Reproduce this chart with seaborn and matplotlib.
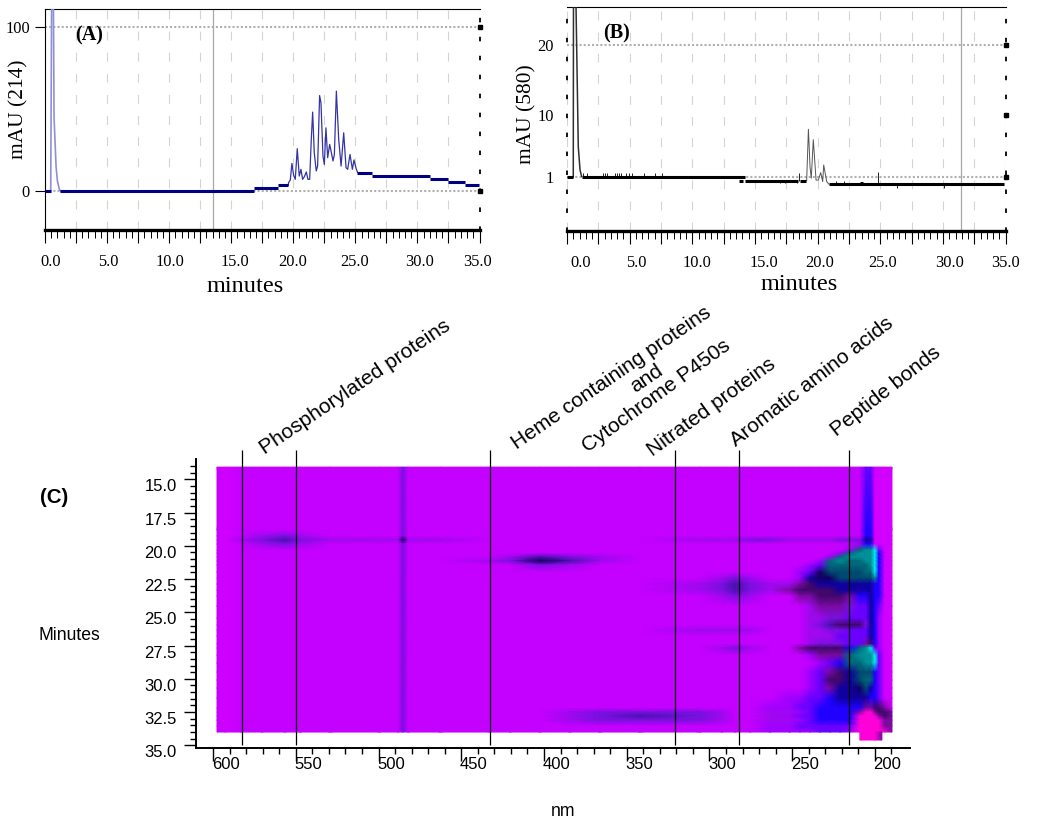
"""Chromatograms at 214 and 580 nm above a wavelength / time absorbance map."""
import numpy as np
import seaborn as sns
import matplotlib
matplotlib.use("Agg")
import matplotlib.pyplot as plt
from matplotlib.colors import ListedColormap
from matplotlib.transforms import ScaledTranslation

W, H = 1050, 826

# panel A, 214 nm trace
a_peak_t = [0.46, 0.54, 0.67, 0.73, 0.89, 1.0, 1.16, 1.25]
a_peak_v = [0, 125, 125, 45, 15, 6, 1, 0]
a_t = [19.6, 19.62, 19.76, 19.89, 20.03, 20.16, 20.32, 20.48, 20.62, 20.75, 20.89, 21.05, 21.18, 21.32,
       21.45, 21.56, 21.69, 21.85, 21.96, 22.12, 22.23, 22.39, 22.50, 22.63, 22.77, 22.93, 23.07, 23.20,
       23.31, 23.47, 23.66, 23.85, 24.06, 24.25, 24.38, 24.57, 24.76, 24.89, 25.08, 25.19]
a_v = [3.4, 5.1, 6.7, 16.8, 9.5, 7.1, 25.8, 9.1, 13.2, 7.1, 8.7, 11.6, 7.1, 7.1,
       31.4, 48.1, 23.3, 12.2, 15.2, 58.2, 53.8, 21.3, 16.2, 38.5, 20.3, 28.4, 23.3, 18.3,
       22.3, 60.9, 31.4, 15.2, 35.5, 14.2, 13.2, 22.3, 13.2, 18.9, 13.2, 11.2]
a_flat_from = [0, 1.2, 16.8, 18.76, 25.1, 26.35, 31.0, 32.5, 33.8]
a_flat_to = [0.46, 16.8, 18.76, 19.6, 26.35, 31.0, 32.5, 33.8, 34.95]
a_flat_v = [0, 0, 1.6, 3.4, 11, 9, 7.3, 5.5, 3.7]

# panel B, 580 nm trace
b_peak_t = [0.5, 0.52, 0.68, 0.9, 1.04, 1.17]
b_peak_v = [1, 30, 30, 5.4, 2.05, 1.1]
b_t = [19.12, 19.26, 19.39, 19.49, 19.65, 19.87, 20.05, 20.24, 20.4, 20.48, 20.72, 20.9]
b_v = [0.47, 7.9, 2.5, 0.86, 6.4, 0.6, 0.6, 1.67, 0.38, 2.77, 0.38, 0]
b_flat_from = [0, 1.17, 13.75, 14.2, 18.6, 20.9, 23.38]
b_flat_to = [0.5, 14.2, 14.07, 18.46, 19.1, 34.85, 23.6]
b_flat_v = [1, 1, 0.47, 0.47, 0.47, 0, 0.25]
b_spike_t = [1.3, 1.57, 2.85, 3.03, 3.22, 3.86, 4.02, 4.18, 4.34, 4.71, 4.97, 5.16, 6.14, 7.02, 7.55,
             18.54, 24.81, 16.99, 17.39, 18.32, 26.36, 30.1, 21.5, 22.1]
b_spike_base = [1] * 15 + [0.47, 0, 0.47, 0.47, 0.47, 0, 0, 0, 0]
b_spike_tip = [1.67] * 15 + [1.67, 1.72, 0.2, 0.2, 0.2, -0.6, -0.6, 0.4, 0.4]

run_major = [i * 2.5 for i in range(15)]
run_labels = ["0.0", "", "5.0", "", "10.0", "", "15.0", "", "20.0", "", "25.0", "", "30.0", "", "35.0"]

# panel C, absorbance map: rows are minutes, columns nm, one character per grid point
map_nm = [597.6, 592.7, 583.1, 570.4, 556.5, 547.4, 529.3, 499.1, 488.2, 485.2, 482.2,
          462.8, 432.6, 420.5, 402.4, 384.3, 366.2, 342.0,
          305.7, 292.4, 284.6, 275.5, 263.4, 251.4, 245.3,
          239.3, 233.2, 227.2, 221.1, 215.1, 209.1, 205.4, 202.4, 200.0, 197.6, 194.0, 189.7]
map_min = [14.08, 18.81, 19.26, 19.56, 19.86, 20.32, 20.54, 20.84, 21.14, 21.44, 21.97, 22.42, 22.87, 23.32,
           23.77, 24.53, 25.43, 25.95, 26.33, 26.78, 27.38, 27.68, 28.21, 28.81, 29.49, 30.09, 30.69, 31.44,
           32.2, 32.5, 32.8, 33.1, 33.55, 34.0]
map_rows = [
    "1a1111111e1 1111111 1111111 11111133aaaa",
    "1a1111111e1 1111111 1111111 11111144aaaa",
    "1a1fef111e1 1111111 1111111 11111144aaaa",
    "1afedefff6f f111111 fffeeff fffeee55aaaa",
    "1a1fef111e1 1111111 1111111 11111244aaaa",
    "1a1111111e1 1111111 1111111 1111278893aa",
    "1a1111111e1 1111111 1111111 1112788894aa",
    "1a1111111e1 11fdef1 1111111 1127888894aa",
    "1a1111111e1 1fe6df1 1111111 1278778894aa",
    "1a1111111e1 111ef11 1111111 2377777894aa",
    "1a1111111e1 1111111 1111112 36nnnn7794aa",
    "1a1111111e1 1111111 1fef112 566nnnnn84aa",
    "1a1111111e1 1111111 fedeffp m555555544aa",
    "1a1111111e1 1111111 fedefpm mmm5555544aa",
    "1a1111111e1 1111111 1fef11p pmmmp44544aa",
    "1a1111111e1 1111111 1111111 fpppe33543aa",
    "1a1111111e1 1111111 1111111 ffee333542aa",
    "1a1111111e1 1111111 1111111 fedmmme542aa",
    "1a1111111e1 1111111 ffff111 ffee333542aa",
    "1a1111111e1 1111111 1111111 fff3333542aa",
    "1a1111111e1 1111111 1111111 feee33pm42aa",
    "1a1111111e1 1111111 1fef11p mmmm478932aa",
    "1a1111111e1 1111111 1111111 2ppp788893aa",
    "1a1111111e1 1111111 1111111 1234778893aa",
    "1a1111111e1 1111111 1111111 23pm5nnn43aa",
    "1a1111111e1 1111111 1111111 23mm5n7743aa",
    "1a1111111e1 1111111 1111111 23p556n543aa",
    "1a1111111e1 1111111 1111122 3345555443aa",
    "1a1111111e1 1111111 1111223 344444ppmmpa",
    "1a1111111e1 1111fee ef11ff2 34444p00pmmp",
    "1a1111111e1 1111fed ef11f23 344440000pmp",
    "1a1111111e1 1111fee ef11ff2 3444400000pp",
    "1a1111111e1 1111111 1111223 3333300000pp",
    "1a1111111e1 1111111 1111222 23332000000p",
]
tail_nm = [209.1, 200.0, 195.8]
tail_min = [34.0, 34.6]
tail_rows = ["00p", "00p"]
map_levels = "0a123456789pmdefn"
map_colors = ["#ff00d8", "#d200ff", "#c400ff", "#a000ff", "#6a00ff", "#2000ff", "#1000a0", "#100060",
              "#006878", "#009098", "#00f0f0", "#7a0aa0", "#40086a", "#4a10b0", "#7a10e0", "#a008f0", "#004a70"]
marker_nm = [582.7, 549.6, 432.6, 321.1, 282.2, 215.4]
map_min_ticks = [15.0, 17.5, 20.0, 22.5, 25.0, 27.5, 30.0, 32.5, 35.0]
map_nm_ticks = [600, 550, 500, 450, 400, 350, 300, 250, 200]

# label text, left end of the baseline in pixels, angle
notes = [
    ("Phosphorylated proteins", 265, 455, 34),
    ("Heme containing proteins", 517, 450, 34.5),
    ("and", 635, 393, 34),
    ("Cytochrome P450s", 588, 453, 36),
    ("Nitrated proteins", 653, 457, 36),
    ("Aromatic amino acids", 736, 447, 37.5),
    ("Peptide bonds", 837, 437, 38),
]

SERIF = "Liberation Serif"
sns.set_style("white")
plt.rcParams["font.family"] = ["Liberation Sans", "DejaVu Sans"]
plt.rcParams["text.color"] = "black"
plt.rcParams["axes.labelcolor"] = "black"
plt.rcParams["xtick.color"] = "black"
plt.rcParams["ytick.color"] = "black"

fig = plt.figure(figsize=(W / 100, H / 100), dpi=100)


def box(left, top, right, bottom):
    return fig.add_axes([left / W, 1 - bottom / H, (right - left) / W, (bottom - top) / H])


def shift(label, dx, dy):
    label.set_transform(label.get_transform() + ScaledTranslation(dx / 100, dy / 100, fig.dpi_scale_trans))


def run_panel(ax, ylim, yticks, ylabels, xshift, yshift, dotted, cursor, tag_x, tag_y):
    ax.set_xlim(0, 35)
    ax.set_ylim(*ylim)
    for x in run_major:
        ax.axvline(x, color="#d4d4d4", lw=0.8, dashes=(8, 11), zorder=1)
    for y in dotted:
        ax.axhline(y, color="#b0b0b0", lw=1.5, dashes=(1, 1), zorder=1)
    ax.axvline(cursor, color="#a8a8a8", lw=0.9, zorder=1)

    ax.set_xticks(run_major)
    ax.set_xticklabels(run_labels, family=SERIF, fontsize=11.8)
    ax.set_xticks(np.arange(0, 35.1, 0.5), minor=True)
    ax.tick_params(axis="x", which="major", bottom=True, length=9.4, width=0.8, pad=8)
    ax.tick_params(axis="x", which="minor", bottom=True, length=5.8, width=0.7)
    ax.set_yticks(yticks)
    ax.set_yticklabels(ylabels, family=SERIF, fontsize=11.8)
    for lab, dx in zip(ax.get_xticklabels()[::2], xshift):
        shift(lab, dx, 0)
    for lab, dy in zip(ax.get_yticklabels(), yshift):
        shift(lab, 0, dy)

    for side in ax.spines:
        ax.spines[side].set_color("black")
        ax.spines[side].set_linewidth(0.8)
    ax.spines["bottom"].set_linewidth(2.4)
    ax.spines["right"].set_linestyle((0, (1.5, 9)))
    ax.spines["right"].set_linewidth(1.3)
    fig.text(tag_x / W, 1 - tag_y / H, ax.get_label(), family=SERIF, fontsize=14.5, fontweight="bold",
             ha="center", va="center")
    ax.plot([35] * len(yticks), yticks, "s", color="black", ms=2.2, clip_on=False, zorder=5)


# panel A
ax_a = box(45, 9, 479.5, 230)
ax_a.set_label("(A)")
run_panel(ax_a, (-23.8, 111), [100, 0], ["100", "0"], [6, 1, 1, 4, -1, -1, 2, -2], [4, 2], [100, 0], 13.5, 89, 35)
ax_a.tick_params(axis="y", length=7.2, width=0.8, left=True, pad=3.6)
sns.lineplot(x=a_peak_t, y=a_peak_v, estimator=None, sort=False, color="#8f8fd8", lw=1.2, ax=ax_a, zorder=3)
sns.lineplot(x=a_t, y=a_v, estimator=None, sort=False, color="#3434a4", lw=0.9, ax=ax_a, zorder=3)
ax_a.hlines(a_flat_v, a_flat_from, a_flat_to, color="#000080", lw=2.2, zorder=4)
ax_a.set_xlabel("minutes", family=SERIF, fontsize=17.5, va="center")
ax_a.xaxis.set_label_coords(245 / W, 1 - 287 / H, transform=fig.transFigure)
ax_a.set_ylabel("mAU (214)", family=SERIF, fontsize=15.4, va="center")
ax_a.yaxis.set_label_coords(19 / W, 1 - 109 / H, transform=fig.transFigure)

# panel B
ax_b = box(567, 7, 1005.7, 230.5)
ax_b.set_label("(B)")
run_panel(ax_b, (-6.64, 25.46), [20, 10, 1], ["20", "10", "1"], [14, 7, 5, 9, 2, 2, 7, 0], [-1, 12, 2], [20, 1],
          31.46, 617, 33)
ax_b.tick_params(axis="y", length=0, pad=9.4)
ax_b.spines["left"].set_linestyle((0, (1.5, 9)))
ax_b.spines["left"].set_linewidth(1.3)
sns.lineplot(x=b_peak_t, y=b_peak_v, estimator=None, sort=False, color="#303030", lw=1.1, ax=ax_b, zorder=3)
sns.lineplot(x=b_t, y=b_v, estimator=None, sort=False, color="#555555", lw=0.7, ax=ax_b, zorder=3)
ax_b.vlines(b_spike_t, b_spike_base, b_spike_tip, color="#222222", lw=0.7, zorder=3)
ax_b.hlines(b_flat_v, b_flat_from, b_flat_to, color="black", lw=2.2, zorder=4)
ax_b.set_xlabel("minutes", family=SERIF, fontsize=17.5, va="center")
ax_b.xaxis.set_label_coords(799 / W, 1 - 285 / H, transform=fig.transFigure)
ax_b.set_ylabel("mAU (580)", family=SERIF, fontsize=15.4, va="center")
ax_b.yaxis.set_label_coords(527 / W, 1 - 114 / H, transform=fig.transFigure)

# panel C
cmap = ListedColormap(map_colors)
grid = np.array([[map_levels.index(c) for c in row.replace(" ", "")] for row in map_rows])
tail = np.array([[map_levels.index(c) for c in row] for row in tail_rows])

ax_c = box(196, 459, 910, 748)
ax_c.set_xlim(610.3, 178.8)
ax_c.set_ylim(35.2, 13.47)
ax_c.pcolormesh(map_nm, map_min, grid, cmap=cmap, vmin=-0.5, vmax=len(map_colors) - 0.5, shading="gouraud")
ax_c.pcolormesh(tail_nm, tail_min, tail, cmap=cmap, vmin=-0.5, vmax=len(map_colors) - 0.5, shading="gouraud")
ax_c.vlines(marker_nm, 12.8, 35.0, color="black", lw=0.9, clip_on=False, zorder=4)

ax_c.set_xticks(map_nm_ticks)
ax_c.set_xticks(np.arange(190, 610, 10), minor=True)
ax_c.set_yticks(map_min_ticks)
ax_c.set_yticks(np.arange(14, 35.1, 0.5), minor=True)
ax_c.set_yticklabels([f"{m:.1f}" for m in map_min_ticks], fontsize=12)
ax_c.set_xticklabels(map_nm_ticks, fontsize=12)
ax_c.tick_params(which="major", bottom=True, left=True, length=9, width=1, pad=-2.5, axis="x")
ax_c.tick_params(which="major", left=True, length=9, width=1, pad=5, axis="y")
ax_c.tick_params(which="minor", bottom=True, left=True, length=4, width=1)
for lab in ax_c.get_xticklabels():
    shift(lab, 12.5, 0)
for lab in ax_c.get_yticklabels():
    shift(lab, 0, -6)
sns.despine(ax=ax_c)
ax_c.spines["left"].set_color("black")
ax_c.spines["bottom"].set_color("black")
ax_c.spines["left"].set_linewidth(1.4)
ax_c.spines["bottom"].set_linewidth(1.4)

fig.text(69 / W, 1 - 636 / H, "Minutes", fontsize=12.7, ha="center", va="center")
fig.text(563 / W, 1 - 812 / H, "nm", fontsize=12.7, ha="center", va="center")
fig.text(54 / W, 1 - 498 / H, "(C)", fontsize=14.7, fontweight="bold", ha="center", va="center")
for text, x, y, angle in notes:
    fig.text(x / W, 1 - y / H, text, fontsize=15, rotation=angle, rotation_mode="anchor", ha="left", va="baseline")

fig.savefig("out.png", dpi=100)
